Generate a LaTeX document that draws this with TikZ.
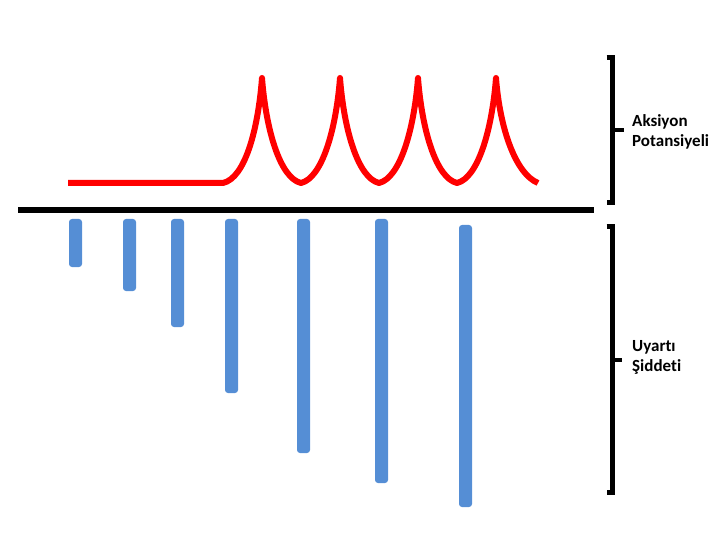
\documentclass[tikz,border=0pt]{standalone}
\usepackage{fontspec}
\setmainfont{Carlito}[Ligatures=NoCommon]
\definecolor{barblue}{RGB}{85,142,213}
\definecolor{spikered}{RGB}{255,0,0}
\tikzset{
  bar/.style={fill=barblue, rounded corners=3pt},
  bracketline/.style={line width=5pt, black},
  ticktip/.style={line width=4pt, black},
  lbl/.style={font=\fontsize{17}{20}\selectfont\bfseries, align=left, inner sep=0pt, anchor=west},
  baseline/.style={line width=6pt, black},
  apcurve/.style={line width=6pt, spikered, line join=round}
}
\begin{document}
\begin{tikzpicture}[x=1pt,y=-1pt]
\useasboundingbox (0,0) rectangle (720,540);
% baseline
\coordinate (bl) at (18,210.5);
\coordinate (br) at (594,210.5);
\draw[baseline] (bl) -- (br);
% action potential curve
\draw[apcurve] (68,183) -- (223,183)
  .. controls (245,178) and (258,130) .. (262,78)
  .. controls (266,130) and (280,178) .. (301,183)
  .. controls (322,178) and (336,130) .. (340,78)
  .. controls (344,130) and (358,178) .. (379,183)
  .. controls (400,178) and (414,130) .. (418,78)
  .. controls (422,130) and (436,178) .. (457,183)
  .. controls (478,178) and (492,130) .. (496,78)
  .. controls (500,130) and (516,174) .. (538,183);
% stimulus bars
\fill[bar] (69,219) rectangle (82,267);
\fill[bar] (123,219) rectangle (136,291);
\fill[bar] (171,219) rectangle (184,327);
\fill[bar] (225,219) rectangle (238,393);
\fill[bar] (297,219) rectangle (310,453);
\fill[bar] (375,219) rectangle (388,483);
\fill[bar] (459,225) rectangle (472,507);
% labels
\node[lbl] (ap) at (632,132) {Aksiyon\\Potansiyeli};
\node[lbl] (ui) at (632,357) {Uyartı\\Şiddeti};
% brackets
\coordinate (b1t) at (612.5,58);
\coordinate (b1b) at (612.5,203);
\coordinate (b1m) at (612.5,130);
\draw[bracketline] ([xshift=-6pt]b1t) -- (b1t) -- (b1b) -- ([xshift=-6pt]b1b);
\draw[ticktip] (b1m) -- ([xshift=-8pt]ap.west |- b1m);
\coordinate (b2t) at (612.5,227);
\coordinate (b2b) at (612.5,492);
\coordinate (b2m) at (612.5,360);
\draw[bracketline] ([xshift=-6pt]b2t) -- (b2t) -- (b2b) -- ([xshift=-6pt]b2b);
\draw[ticktip] (b2m) -- ([xshift=-10pt]ui.west |- b2m);
\end{tikzpicture}
\end{document}
